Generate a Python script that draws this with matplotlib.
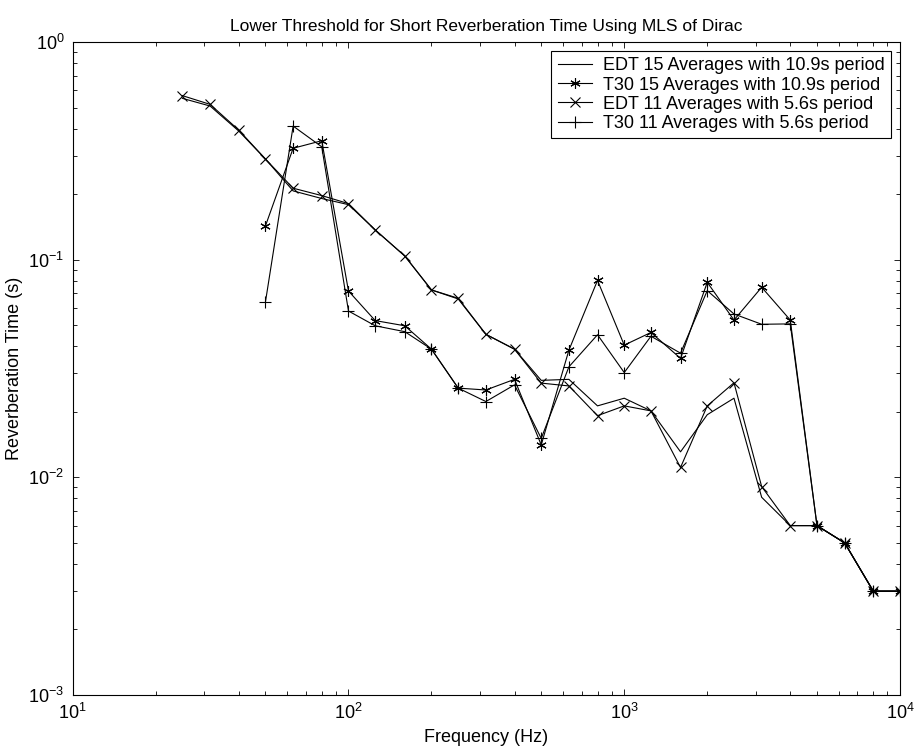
import matplotlib
matplotlib.use("Agg")
import matplotlib.pyplot as plt

plt.rcParams['font.family'] = ['Liberation Sans', 'DejaVu Sans']
plt.rcParams['font.size'] = 12.5

# third-octave band centres (Hz)
freq = [25, 31.5, 40, 50, 63, 80, 100, 125, 160, 200, 250, 315, 400, 500,
        630, 800, 1000, 1250, 1600, 2000, 2500, 3150, 4000, 5000, 6300, 8000, 10000]
freq_t30 = freq[3:]  # T30 starts at 50 Hz

# reverberation times (s)
edt_15 = [0.551, 0.508, 0.39, 0.29, 0.207, 0.191, 0.179, 0.137, 0.104, 0.0726,
          0.066, 0.0454, 0.0388, 0.0279, 0.0282, 0.0213, 0.0231, 0.0202, 0.0131,
          0.0194, 0.0231, 0.0081, 0.006, 0.006, 0.005, 0.003, 0.003]
edt_11 = [0.567, 0.517, 0.394, 0.29, 0.213, 0.197, 0.181, 0.137, 0.104, 0.0726,
          0.0665, 0.0454, 0.0388, 0.0271, 0.0263, 0.0192, 0.0213, 0.0202, 0.0111,
          0.0213, 0.0272, 0.00907, 0.006, 0.006, 0.005, 0.003, 0.003]
t30_15 = [0.143, 0.325, 0.352, 0.0718, 0.0525, 0.0497, 0.0388, 0.0257, 0.0252,
          0.0282, 0.0141, 0.0384, 0.0803, 0.0405, 0.0463, 0.0352, 0.0787, 0.0528,
          0.0747, 0.0528, 0.006, 0.005, 0.003, 0.003]
t30_11 = [0.064, 0.411, 0.330, 0.0581, 0.0497, 0.0467, 0.0388, 0.0257, 0.0223,
          0.0266, 0.0151, 0.0322, 0.0452, 0.0303, 0.0445, 0.0372, 0.0721, 0.0563,
          0.0505, 0.0507, 0.006, 0.005, 0.003, 0.003]

fig = plt.figure(figsize=(9.18, 7.53), dpi=100)
ax = fig.add_axes([0.0792, 0.0770, 0.9012, 0.8672])

lw = 0.8
ax.loglog(freq, edt_15, color='k', lw=lw, label='EDT 15 Averages with 10.9s period')
ax.loglog(freq_t30, t30_15, color='k', lw=lw, marker=(6, 2, 0), ms=7.5, mew=0.8,
          label='T30 15 Averages with 10.9s period')
ax.loglog(freq, edt_11, color='k', lw=lw, marker='x', ms=6.5, mew=0.8,
          label='EDT 11 Averages with 5.6s period')
ax.loglog(freq_t30, t30_11, color='k', lw=lw, marker='+', ms=8.5, mew=0.8,
          label='T30 11 Averages with 5.6s period')

ax.set_xlim(10, 1e4)
ax.set_ylim(1e-3, 1)
ax.tick_params(which='both', direction='in', top=True, right=True, width=0.6, labelsize=13)
ax.tick_params(which='major', length=4.5)
ax.tick_params(which='minor', length=3)
ax.tick_params(axis='x', which='major', pad=6)
ax.tick_params(axis='y', which='major', pad=6)
for s in ax.spines.values():
    s.set_linewidth(0.8)

ax.set_title('Lower Threshold for Short Reverberation Time Using MLS of Dirac', fontsize=12.5, pad=8)
ax.set_xlabel('Frequency (Hz)', fontsize=13, labelpad=4)
ax.set_ylabel('Reverberation Time (s)', fontsize=13, labelpad=4)

leg = ax.legend(loc='upper right', fancybox=False, edgecolor='k', framealpha=1,
                fontsize=13, handlelength=1.9, labelspacing=0.12, borderaxespad=0.5,
                borderpad=0.35, handletextpad=0.6)
leg.get_frame().set_linewidth(0.8)

fig.savefig('out.png', dpi=100)
